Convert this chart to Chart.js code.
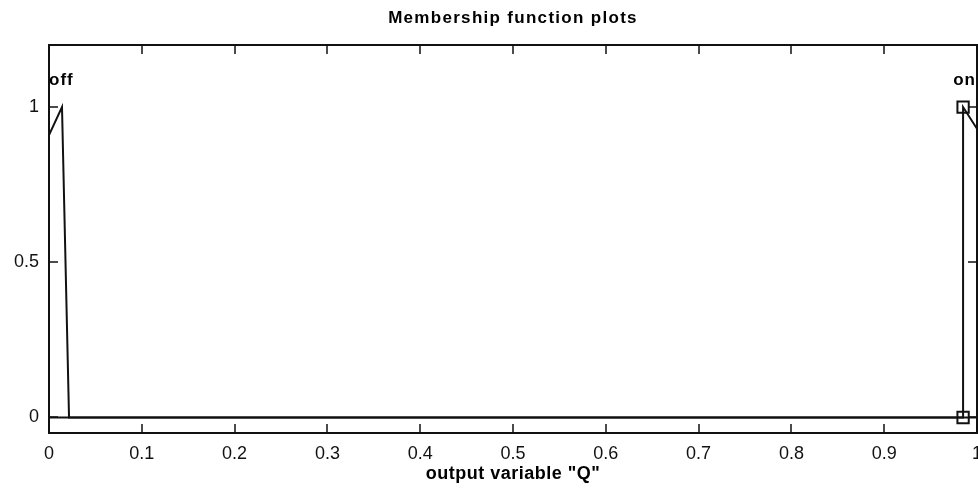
<!DOCTYPE html>
<html>
<head>
<meta charset="utf-8">
<script src="https://cdn.jsdelivr.net/npm/chart.js@4.4.0/dist/chart.umd.min.js"></script>
<style>
  html, body { margin: 0; padding: 0; background: #fff; }
  #wrap { width: 978px; height: 495px; }
</style>
</head>
<body>
<div id="wrap"><canvas id="c" width="978" height="495"></canvas></div>
<script>
// membership functions
const offX = [0, 0.014, 0.0216, 1];
const offY = [0.91, 1, 0, 0];
const onX = [0, 0.985, 0.985, 1];
const onY = [0, 0, 1, 0.93];
const xTicks = [0, 0.1, 0.2, 0.3, 0.4, 0.5, 0.6, 0.7, 0.8, 0.9, 1];
const yTicks = [0, 0.5, 1];
const mfNames = ['off', 'on'];
const mfLabelX = [0, 1];

const chartTitle = 'Membership function plots';
const xTitle = 'output variable "Q"';

const FONT = '"Liberation Sans", Arial, sans-serif';

const toPts = (xs, ys) => xs.map((x, i) => ({ x, y: ys[i] }));

// frame, inward ticks, titles, MF names
const decor = {
    id: 'decor',
    afterDraw(chart) {
        const { ctx, chartArea: a, scales } = chart;
        const xs = scales.x, ys = scales.y;
        ctx.save();
        ctx.strokeStyle = '#111';
        ctx.lineWidth = 2;
        ctx.strokeRect(a.left, a.top, a.right - a.left, a.bottom - a.top);

        ctx.lineWidth = 1.5;
        ctx.beginPath();
        xTicks.forEach(v => {
            const px = Math.round(xs.getPixelForValue(v));
            ctx.moveTo(px, a.bottom); ctx.lineTo(px, a.bottom - 9);
            ctx.moveTo(px, a.top); ctx.lineTo(px, a.top + 9);
        });
        yTicks.forEach(v => {
            const py = Math.round(ys.getPixelForValue(v));
            ctx.moveTo(a.left, py); ctx.lineTo(a.left + 9, py);
            ctx.moveTo(a.right, py); ctx.lineTo(a.right - 9, py);
        });
        ctx.stroke();

        ctx.fillStyle = '#000';
        ctx.textAlign = 'center';
        ctx.textBaseline = 'middle';
        ctx.font = 'bold 17px ' + FONT;
        ctx.letterSpacing = '1.3px';
        ctx.fillText(chartTitle, (a.left + a.right) / 2, 18);
        ctx.font = 'bold 18px ' + FONT;
        ctx.letterSpacing = '0.5px';
        ctx.fillText(xTitle, (a.left + a.right) / 2, 474);

        // names of the membership functions
        ctx.font = 'bold 17px ' + FONT;
        ctx.letterSpacing = '1px';
        mfNames.forEach((n, i) => {
            const px = xs.getPixelForValue(mfLabelX[i]);
            ctx.textAlign = i === 0 ? 'left' : 'right';
            ctx.fillText(n, px + (i === 0 ? 0 : -1), ys.getPixelForValue(1.085));
        });
        ctx.restore();
    }
};

new Chart(document.getElementById('c'), {
    type: 'scatter',
    data: {
        datasets: [
            {
                label: mfNames[0],
                data: toPts(offX, offY),
                showLine: true,
                borderColor: '#111',
                borderWidth: 2,
                pointRadius: 0,
                tension: 0
            },
            {
                label: mfNames[1],
                data: toPts(onX, onY),
                showLine: true,
                borderColor: '#111',
                borderWidth: 2,
                pointStyle: 'rect',
                pointRadius: onX.map((x, i) => (i === 1 || i === 2 ? 8 : 0)),
                pointBackgroundColor: 'rgba(0,0,0,0)',
                pointBorderColor: '#111',
                pointBorderWidth: 2,
                tension: 0
            }
        ]
    },
    options: {
        responsive: false,
        animation: false,
        layout: { padding: { top: 45, right: 1, left: 0, bottom: 0 } },
        plugins: { legend: { display: false }, tooltip: { enabled: false }, title: { display: false } },
        scales: {
            x: {
                type: 'linear',
                min: 0,
                max: 1,
                afterBuildTicks: s => { s.ticks = xTicks.map(v => ({ value: v })); },
                afterFit: s => { s.height = 62; s.paddingLeft = 0; s.paddingRight = 0; },
                grid: { display: false, drawTicks: false },
                border: { display: false },
                ticks: {
                    padding: 10,
                    color: '#111',
                    font: { family: FONT, size: 18 },
                    maxRotation: 0,
                    callback: v => String(v)
                }
            },
            y: {
                type: 'linear',
                min: -0.05,
                max: 1.2,
                afterBuildTicks: s => { s.ticks = yTicks.map(v => ({ value: v })); },
                afterFit: s => { s.width = 49; s.paddingTop = 0; s.paddingBottom = 0; },
                grid: { display: false, drawTicks: false },
                border: { display: false },
                ticks: {
                    padding: 10,
                    color: '#111',
                    font: { family: FONT, size: 18 },
                    callback: v => String(v)
                }
            }
        }
    },
    plugins: [decor]
});
</script>
</body>
</html>
